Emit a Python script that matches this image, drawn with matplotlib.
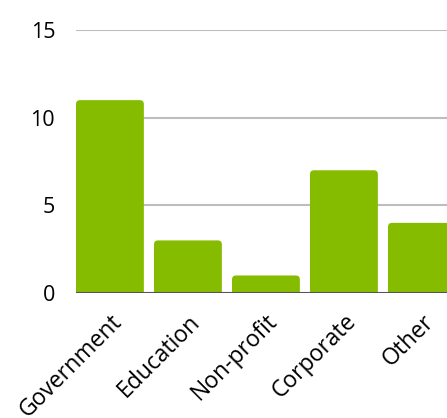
import matplotlib
matplotlib.use("Agg")
import matplotlib.pyplot as plt
from matplotlib.patches import FancyBboxPatch
import matplotlib.transforms as mtransforms

categories = ["Government", "Education", "Non-profit", "Corporate", "Other"]
values = [11, 3, 1, 7, 4]
yticks = [0, 5, 10, 15]

W, H = 447, 418
fig = plt.figure(figsize=(W / 100, H / 100), dpi=100)
left_px, right_px, bottom_px, top_px = 76, 466, 418 - 293, 418 - 30
ax = fig.add_axes([left_px / W, bottom_px / H, (right_px - left_px) / W, (top_px - bottom_px) / H])

bw = 0.87
ax.set_xlim(-bw / 2, -bw / 2 + (right_px - left_px) / 78.0)
ax.set_ylim(0, 15)

px_per_x = 78.0
px_per_y = (top_px - bottom_px) / 15.0
r = 4.0 / px_per_x
aspect = px_per_x / px_per_y
for i, v in enumerate(values):
    p = FancyBboxPatch((i - bw / 2, -1), bw, v + 1,
                       boxstyle=f"round,pad=0,rounding_size={r}",
                       mutation_aspect=aspect, facecolor="#86bc00",
                       edgecolor="none", zorder=3)
    ax.add_patch(p)

ax.set_yticks(yticks)
ax.set_yticklabels([str(t) for t in yticks])
for t in yticks:
    ax.axhline(t, color="#555555" if t == 0 else "#bdbdbd",
               lw=1.5, zorder=2 if t else 4)

ax.set_xticks(range(len(categories)))
ax.set_xticklabels(categories, rotation=45, ha="right", va="top",
                   rotation_mode="anchor", fontsize=16.5, family="Open Sans")
offset = mtransforms.ScaledTranslation(19 / 100, 0, fig.dpi_scale_trans)
for lab in ax.get_xticklabels():
    lab.set_transform(lab.get_transform() + offset)
for lab in ax.get_yticklabels():
    lab.set_fontsize(15.5)
    lab.set_family("Open Sans")
ax.tick_params(axis="both", length=0)
ax.tick_params(axis="y", pad=15)
ax.tick_params(axis="x", pad=12)
for s in ax.spines.values():
    s.set_visible(False)

fig.savefig("out.png", dpi=100)
